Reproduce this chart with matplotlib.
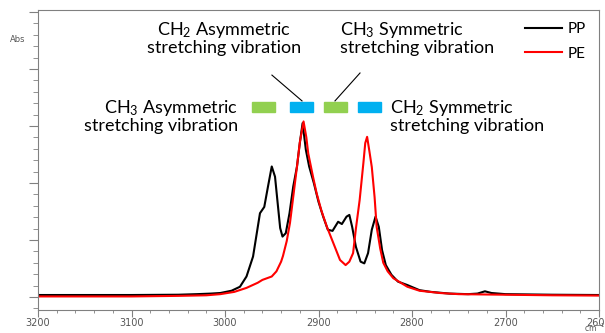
import matplotlib
matplotlib.use('Agg')
import matplotlib.pyplot as plt
from matplotlib.patches import Rectangle

# wavenumber (cm-1) / absorbance
pp_wn = [3200, 3100, 3050, 3030, 3015, 3005, 2993, 2984, 2977, 2970, 2966, 2962.6, 2958,
         2954, 2950, 2946.5, 2944, 2941, 2938.5, 2935, 2931, 2927, 2923, 2920, 2917,
         2913.5, 2910, 2905, 2900, 2895, 2890, 2885, 2879, 2875, 2870, 2867, 2864, 2860,
         2855, 2851, 2847, 2843, 2839, 2835.5, 2832, 2828, 2822, 2815, 2805, 2792, 2780,
         2760, 2740, 2730, 2722, 2715, 2700, 2650, 2600]
pp_abs = [0.035, 0.035, 0.04, 0.05, 0.06, 0.07, 0.11, 0.18, 0.36, 0.71, 1.12, 1.47, 1.58,
          1.94, 2.29, 2.11, 1.70, 1.21, 1.06, 1.12, 1.47, 1.94, 2.29, 2.70, 3.05,
          2.58, 2.29, 2.00, 1.67, 1.41, 1.18, 1.16, 1.32, 1.28, 1.41, 1.44, 1.23, 0.88,
          0.62, 0.59, 0.77, 1.18, 1.41, 1.23, 0.82, 0.56, 0.39, 0.27, 0.21, 0.12, 0.09,
          0.06, 0.05, 0.06, 0.10, 0.07, 0.05, 0.04, 0.035]

pe_wn = [3200, 3100, 3050, 3020, 3005, 2990, 2977, 2965, 2960, 2955, 2950, 2945, 2940,
         2938, 2934, 2930.5, 2927, 2923, 2920, 2916, 2913, 2911, 2906, 2902, 2897, 2891,
         2884, 2877, 2871, 2867, 2863, 2860, 2856, 2852, 2850, 2848, 2845.5, 2843, 2840,
         2837.8, 2834, 2830.7, 2826, 2820, 2805, 2792, 2770, 2750, 2700, 2650, 2600]
pe_abs = [0.01, 0.01, 0.02, 0.03, 0.05, 0.09, 0.16, 0.25, 0.30, 0.33, 0.36, 0.45, 0.62,
          0.72, 0.98, 1.30, 1.76, 2.29, 2.71, 3.08, 2.80, 2.52, 2.12, 1.82, 1.52, 1.23,
          0.94, 0.65, 0.56, 0.62, 0.77, 1.20, 1.70, 2.35, 2.70, 2.81, 2.55, 2.28, 1.75,
          1.23, 0.85, 0.60, 0.45, 0.33, 0.18, 0.11, 0.07, 0.05, 0.04, 0.03, 0.025]

plt.rcParams['font.family'] = ['Lato', 'DejaVu Sans']
plt.rcParams['mathtext.fontset'] = 'custom'
plt.rcParams['mathtext.rm'] = 'Lato'
plt.rcParams['mathtext.it'] = 'Lato:italic'

fig = plt.figure(figsize=(6.05, 3.33), dpi=100)
ax = fig.add_axes([38 / 605, 1 - 310 / 333, 561 / 605, 300 / 333])

ax.plot(pp_wn, pp_abs, color='black', lw=1.5, label='PP')
ax.plot(pe_wn, pe_abs, color='red', lw=1.5, label='PE')

ax.set_xlim(3200, 2600)
ax.set_ylim(-0.228, 5.035)

# axis styling
for s in ax.spines.values():
    s.set_color('#808080')
ax.set_xticks(range(3200, 2599, -100))
ax.set_xticks(range(3200, 2599, -20), minor=True)
ax.set_yticks([0, 1, 2, 3, 4, 5])
ax.set_yticks([i * 0.2 for i in range(-1, 26)], minor=True)
ax.set_yticklabels([])
ax.tick_params(axis='x', which='major', length=5, color='#808080', labelsize=7,
               labelcolor='#555555', pad=1)
ax.tick_params(axis='x', which='minor', length=2.5, color='#808080')
ax.tick_params(axis='y', which='major', length=6.5, color='#808080')
ax.tick_params(axis='y', which='minor', length=3.5, color='#808080')
for lab in ax.get_xticklabels():
    lab.set_family('DejaVu Sans')

fig.text(18 / 605, 1 - 39 / 333, 'Abs', fontsize=6, color='#555555', ha='center',
         va='center', family='DejaVu Sans')
fig.text(584 / 605, 1 - 328 / 333, 'cm$^{-1}$', fontsize=5.5, color='#555555', ha='left',
         va='center', family='DejaVu Sans', math_fontfamily='dejavusans')

# band markers
green = '#92D050'
blue = '#00B0F0'
for x0, c in [(252, green), (290, blue), (324, green), (358, blue)]:
    ax.add_patch(Rectangle(((x0 - 38) / 561, (310 - 112) / 300), 23 / 561, 10.3 / 300,
                           transform=ax.transAxes, color=c, clip_on=False))

fs = 13
ax.text(0.331, 0.905, 'CH$_2$ Asymmetric\nstretching vibration', transform=ax.transAxes,
        ha='center', va='center', fontsize=fs, linespacing=1.0)
ax.text(0.676, 0.905, 'CH$_3$ Symmetric\nstretching vibration', transform=ax.transAxes,
        ha='center', va='center', fontsize=fs, linespacing=1.0, multialignment='left')
ax.text(0.3565, 0.647, 'CH$_3$ Asymmetric\nstretching vibration', transform=ax.transAxes,
        ha='right', va='center', fontsize=fs, linespacing=1.0, multialignment='right')
ax.text(0.6275, 0.647, 'CH$_2$ Symmetric\nstretching vibration', transform=ax.transAxes,
        ha='left', va='center', fontsize=fs, linespacing=1.0, multialignment='left')

ax.plot([0.417, 0.4706], [0.783, 0.697], color='black', lw=0.8, transform=ax.transAxes)
ax.plot([0.574, 0.5294], [0.79, 0.697], color='black', lw=0.8, transform=ax.transAxes)

ax.legend(loc='upper left', bbox_to_anchor=(0.868, 0.96), frameon=False, fontsize=11,
          handlelength=2.4, handletextpad=0.4, labelspacing=0.7, borderpad=0,
          borderaxespad=0)

fig.savefig('out.png', dpi=100)
